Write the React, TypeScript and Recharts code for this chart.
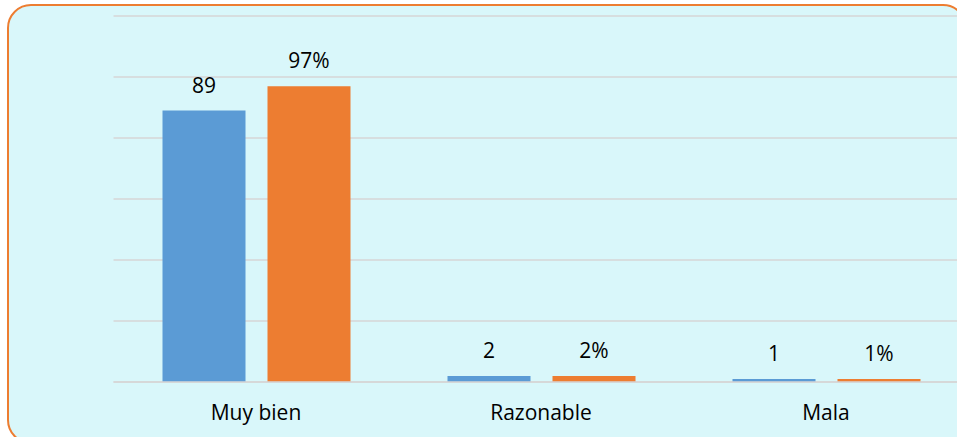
import React from 'react';
import { BarChart, Bar, XAxis, YAxis, CartesianGrid, LabelList } from 'recharts';

const categories = ['Muy bien', 'Razonable', 'Mala'];
const counts = [89, 2, 1];
const percents = [97, 2, 1];
const yTicks = [0, 20, 40, 60, 80, 100, 120];

const data = categories.map((name, i) => ({
  name,
  count: counts[i],
  percent: percents[i],
}));

const FONT = '"Open Sans", "Noto Sans", sans-serif';

const App: React.FC = () => {
  return (
    <div
      style={{
        position: 'fixed',
        left: 0,
        top: 0,
        width: 957,
        height: 437,
        overflow: 'hidden',
        background: '#ffffff',
      }}
    >
      {/* rounded frame */}
      <div
        style={{
          position: 'absolute',
          left: 7,
          top: 4,
          width: 960,
          height: 440,
          boxSizing: 'border-box',
          background: '#d9f7fa',
          border: '2.5px solid #ed7d31',
          borderRadius: 24,
        }}
      />
      <div style={{ position: 'absolute', left: 0, top: 0 }}>
        <BarChart
          width={1000}
          height={437}
          data={data}
          margin={{ top: 16, left: 113.5, right: 31.5, bottom: 5 }}
          barSize={83}
          barGap={22}
        >
          <CartesianGrid vertical={false} stroke="#d6d6d6" strokeWidth={1.5} />
          <YAxis hide domain={[0, 120]} ticks={yTicks} />
          <XAxis
            dataKey="name"
            height={50}
            axisLine={{ stroke: '#d6d6d6', strokeWidth: 1.5 }}
            tickLine={false}
            tickSize={0}
            tickMargin={23}
            tick={{ fill: '#000000', fontSize: 21, fontFamily: FONT }}
          />
          <Bar dataKey="count" fill="#5b9bd5" isAnimationActive={false}>
            <LabelList
              dataKey="count"
              position="top"
              offset={18}
              fill="#000000"
              fontSize={21}
              fontFamily={FONT}
            />
          </Bar>
          <Bar dataKey="percent" fill="#ed7d31" isAnimationActive={false}>
            <LabelList
              dataKey="percent"
              position="top"
              offset={18}
              fill="#000000"
              fontSize={21}
              fontFamily={FONT}
              formatter={(v: number) => `${v}%`}
            />
          </Bar>
        </BarChart>
      </div>
    </div>
  );
};

export default App;
